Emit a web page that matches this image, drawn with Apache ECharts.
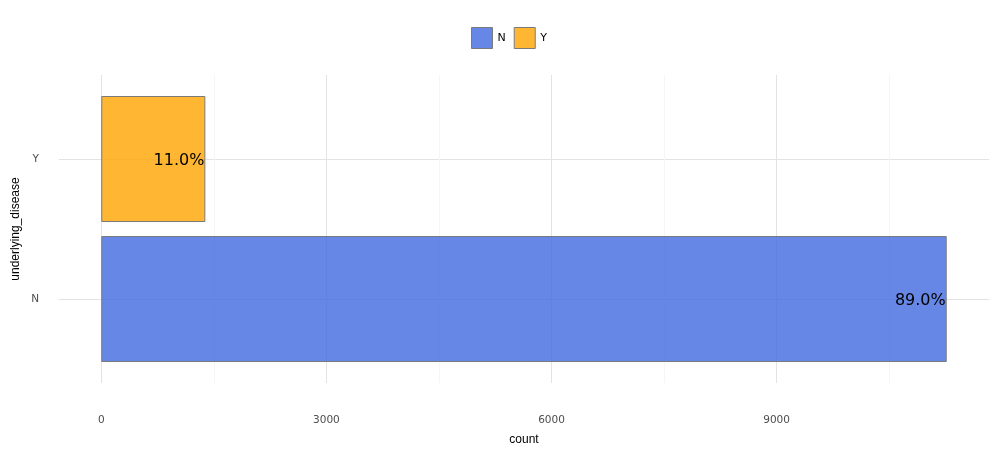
<!DOCTYPE html>
<html><head><meta charset="utf-8">
<script src="https://cdn.jsdelivr.net/npm/echarts@6/dist/echarts.min.js"></script>
<style>html,body{margin:0;padding:0;background:#fff}#c{width:998px;height:456px}</style>
</head><body><div id="c"></div>
<script>
const categories = ['N', 'Y'];
const counts = [11267, 1387];
const percentLabels = ['89.0%', '11.0%'];
const xTicks = [0, 3000, 6000, 9000];
const xMinorTicks = [1500, 4500, 7500, 10500];
const colors = { N: 'rgba(65,105,225,0.8)', Y: 'rgba(255,165,0,0.8)' };

const xMin = -563.35, xMax = 11830.35;
const chart = echarts.init(document.getElementById('c'), null, { renderer: 'canvas' });

const series = categories.map((cat, i) => ({
  name: cat,
  type: 'bar',
  xAxisIndex: 2,
  yAxisIndex: 1,
  barGap: '-100%',
  barWidth: '90%',
  clip: false,
  data: categories.map((c, j) => j === i ? counts[j] : null),
  itemStyle: { color: colors[cat], borderColor: '#7a7a7a', borderWidth: 1 },
  label: {
    show: true, position: 'insideRight', distance: 1, offset: [0, 2],
    formatter: () => percentLabels[i],
    color: '#000', fontSize: 16, fontFamily: 'DejaVu Sans'
  },
  emphasis: { disabled: true }
}));

chart.setOption({
  animation: false,
  backgroundColor: '#fff',
  textStyle: { fontFamily: 'DejaVu Sans' },
  legend: {
    data: categories, top: 22, left: 466, itemWidth: 21, itemHeight: 21, itemGap: 8,
    icon: 'rect',
    itemStyle: { borderColor: '#7a7a7a', borderWidth: 1 },
    textStyle: { fontSize: 11, color: '#000' }
  },
  grid: [
    { left: 59, right: 9, top: 75, bottom: 73, outerBoundsMode: 'none', containLabel: false },
    { left: 59, right: 9, top: 159, bottom: 157, outerBoundsMode: 'none', containLabel: false }
  ],
  xAxis: [
    {
      gridIndex: 0, type: 'value', min: xMin, max: xMax,
      name: 'count', nameLocation: 'middle', nameGap: 51, nameMoveOverlap: false,
      nameTextStyle: { fontSize: 12, color: '#000', fontFamily: 'Liberation Sans' },
      axisLine: { show: false },
      axisTick: { show: false, customValues: xTicks },
      axisLabel: { customValues: xTicks, color: '#4d4d4d', fontSize: 10.5, margin: 32, formatter: v => String(v) },
      splitLine: { show: true, lineStyle: { color: '#e3e3e3', width: 1 } }
    },
    {
      gridIndex: 0, type: 'value', min: xMin, max: xMax,
      axisLine: { show: false },
      axisTick: { show: false, customValues: xMinorTicks },
      axisLabel: { show: false, customValues: xMinorTicks },
      splitLine: { show: true, lineStyle: { color: '#f6f6f6', width: 1 } }
    },
    {
      gridIndex: 1, type: 'value', min: xMin, max: xMax, show: false,
      splitLine: { show: false }
    }
  ],
  yAxis: [
    { gridIndex: 0, type: 'value', min: 0, max: 1, show: false, splitLine: { show: false } },
    {
      gridIndex: 1, type: 'category', data: categories, boundaryGap: false,
      name: 'underlying_disease', nameLocation: 'middle', nameGap: 37, nameRotate: 90, nameMoveOverlap: false,
      nameTextStyle: { fontSize: 12, color: '#000', fontFamily: 'Liberation Sans' },
      axisLine: { show: false }, axisTick: { show: false },
      axisLabel: { color: '#4d4d4d', fontSize: 10.5, margin: 20 },
      splitLine: { show: true, lineStyle: { color: '#e3e3e3', width: 1 } }
    }
  ],
  series
});
</script></body></html>
